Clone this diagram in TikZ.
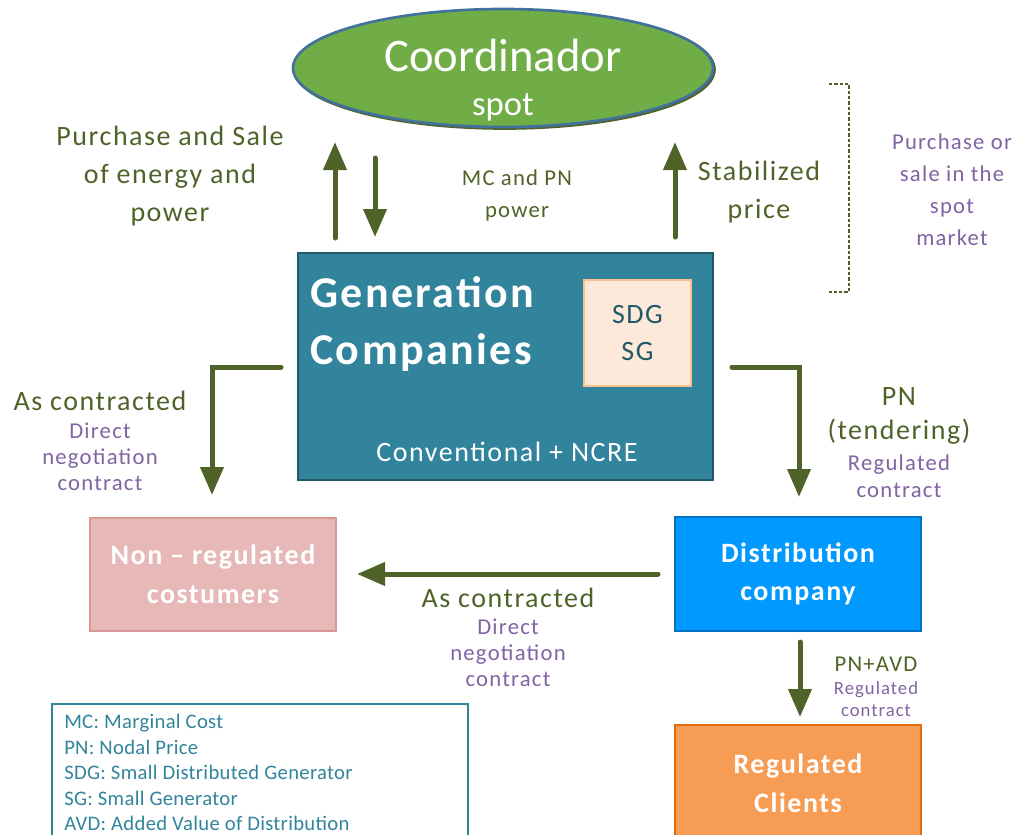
\documentclass[tikz,border=0pt]{standalone}
\usepackage{fontspec}
\setmainfont{Carlito}[LetterSpace=5.5]
\newfontfamily\nospacefont{Carlito}
\newfontfamily\legfont{Carlito}[LetterSpace=1.5]
\usetikzlibrary{arrows.meta,shapes.geometric}
\definecolor{arrowgreen}{HTML}{4F6228}
\definecolor{txtpurple}{HTML}{8064A2}
\definecolor{ellgreen}{HTML}{70AD47}
\definecolor{ellborder}{HTML}{41719C}
\definecolor{genfill}{HTML}{31849B}
\definecolor{genborder}{HTML}{215968}
\definecolor{sdgfill}{HTML}{FDE9D9}
\definecolor{sdgborder}{HTML}{FAC090}
\definecolor{nonfill}{HTML}{E6B9B8}
\definecolor{nonborder}{HTML}{D99694}
\definecolor{distfill}{HTML}{0099FF}
\definecolor{distborder}{HTML}{0070C0}
\definecolor{regfill}{HTML}{F79C55}
\definecolor{regborder}{HTML}{E46C0A}
\definecolor{legteal}{HTML}{31849B}
\newcommand\myfs[2]{\fontsize{#1}{#2}\selectfont}
\tikzset{
  bigarrow/.style={draw=arrowgreen, line width=3.75pt, line cap=round,
    -{Triangle[width=17pt,length=21pt]}},
  gtext/.style={text=arrowgreen, align=center, inner sep=0pt},
  ptext/.style={text=txtpurple, align=center, inner sep=0pt},
  boxtext/.style={text=white, align=center, font=\bfseries\myfs{21}{29}},
  ellshape/.style={ellipse, minimum width=315pt, minimum height=88.5pt, inner sep=0pt},
}
\begin{document}
\begin{tikzpicture}[x=0.75pt,y=-0.75pt]
\useasboundingbox (0,0) rectangle (1017,835);
\clip (0,0) rectangle (1017,835);

% Coordinador ellipse (with slight shadow)
\node[ellshape, draw=arrowgreen, line width=2pt, fill=arrowgreen] (coordsh) at (504.5,69.5) {};
\node[ellshape, draw=ellborder, line width=2pt, fill=ellgreen] (coord) at (503,68) {};
\node[text=white, font=\nospacefont\myfs{35}{42}, inner sep=0pt] (coordt) at (503,55) {Coordinador};
\node[text=white, font=\nospacefont\myfs{26}{30}, inner sep=0pt] (spott) at (503,107) {spot};

% Generation companies
\node[draw=genborder, line width=1.2pt, fill=genfill, minimum width=311.25pt,
  minimum height=170.25pt, inner sep=0pt] (gen) at (505.5,366.5) {};
\node[text=white, font=\bfseries\myfs{33}{42.75}, align=left, anchor=west, inner sep=0pt]
  (gent) at (310,324) {Generation\\Companies};
\node[draw=sdgborder, line width=1.5pt, fill=sdgfill, minimum width=80.25pt,
  minimum height=79.5pt, inner sep=0pt, text=genborder, align=center,
  font=\myfs{21}{27.75}] (sdg) at (637.5,333) {SDG\\SG};
\node[text=white, font=\myfs{21}{25}, inner sep=0pt] (conv) at (507,452) {Conventional + NCRE};

% lower boxes
\node[draw=nonborder, line width=1.2pt, fill=nonfill, minimum width=184.5pt,
  minimum height=84.75pt, inner sep=0pt, boxtext] (nonreg) at (213,574.5) {Non -- regulated\\costumers};
\node[draw=distborder, line width=1.2pt, fill=distfill, minimum width=184.5pt,
  minimum height=85.5pt, inner sep=0pt, boxtext] (dist) at (798,574) {Distribution\\company};
\node[draw=regborder, line width=1.2pt, fill=regfill, minimum width=184.5pt,
  minimum height=87pt, inner sep=0pt, boxtext] (reg) at (798,783) {Regulated\\Clients};

% legend
\node[draw=legteal, line width=1pt, minimum width=312pt, minimum height=103.5pt,
  inner sep=0pt] (legbox) at (260,773) {};
\node[text=legteal, font=\legfont\myfs{15.5}{19.1}, align=left, anchor=west, inner sep=0pt]
  (legt) at (64,772.5) {MC: Marginal Cost\\PN: Nodal Price\\SDG: Small Distributed Generator\\SG: Small Generator\\AVD: Added Value of Distribution};

% arrow end coordinates
\coordinate (a1s) at (335,238); \coordinate (a1e) at (335,142);
\coordinate (a2s) at (375,158); \coordinate (a2e) at (375,237);
\coordinate (a3s) at (675,237); \coordinate (a3e) at (675,142);
\coordinate (a4s) at (281,367); \coordinate (a4e) at (212,495);
\coordinate (a5s) at (732,367); \coordinate (a5e) at (799,497);
\coordinate (a6s) at (658,574); \coordinate (a6e) at (357,574);
\coordinate (a7s) at (800,642); \coordinate (a7e) at (800,717);

\draw[bigarrow] (a1s) -- (a1e);
\draw[bigarrow] (a2s) -- (a2e);
\draw[bigarrow] (a3s) -- (a3e);
\draw[bigarrow] (a4s) -| (a4e);
\draw[bigarrow] (a5s) -| (a5e);
\draw[bigarrow] (a6s) -- (a6e);
\draw[bigarrow] (a7s) -- (a7e);

% dotted bracket
\coordinate (b1) at (829,84); \coordinate (b2) at (849,84);
\coordinate (b3) at (849,292); \coordinate (b4) at (829,292);
\draw[arrowgreen, line width=1.2pt, dash pattern=on 2.4pt off 1.6pt] (b1) -- (b2) -- (b3) -- (b4);

% labels
\node[gtext, font=\myfs{21}{28.5}] (l1) at (170,176) {Purchase and Sale\\of energy and\\power};
\node[gtext, font=\myfs{17}{24}] (l2) at (517,195) {MC and PN\\power};
\node[gtext, font=\myfs{21}{28.5}] (l3) at (759,192) {Stabilized\\price};
\node[ptext, font=\myfs{17}{24}] (l4) at (952,190) {Purchase or\\sale in the\\spot\\market};

\node[gtext, font=\myfs{21}{25}] (l5) at (100,401) {As contracted};
\node[ptext, font=\myfs{17}{19.5}] (l6) at (100,457) {Direct\\negotiation\\contract};

\node[gtext, font=\myfs{21}{25.5}] (l7) at (899,416) {PN\\(tendering)};
\node[ptext, font=\myfs{17}{20.5}] (l8) at (899,476) {Regulated\\contract};

\node[gtext, font=\myfs{21}{25}] (l9) at (508,598) {As contracted};
\node[ptext, font=\myfs{17}{19.5}] (l10) at (508,653) {Direct\\negotiation\\contract};

\node[gtext, font=\myfs{17}{20}] (l11) at (876,664) {PN+AVD};
\node[ptext, font=\myfs{14}{17}] (l12) at (876,699) {Regulated\\contract};
\end{tikzpicture}
\end{document}
